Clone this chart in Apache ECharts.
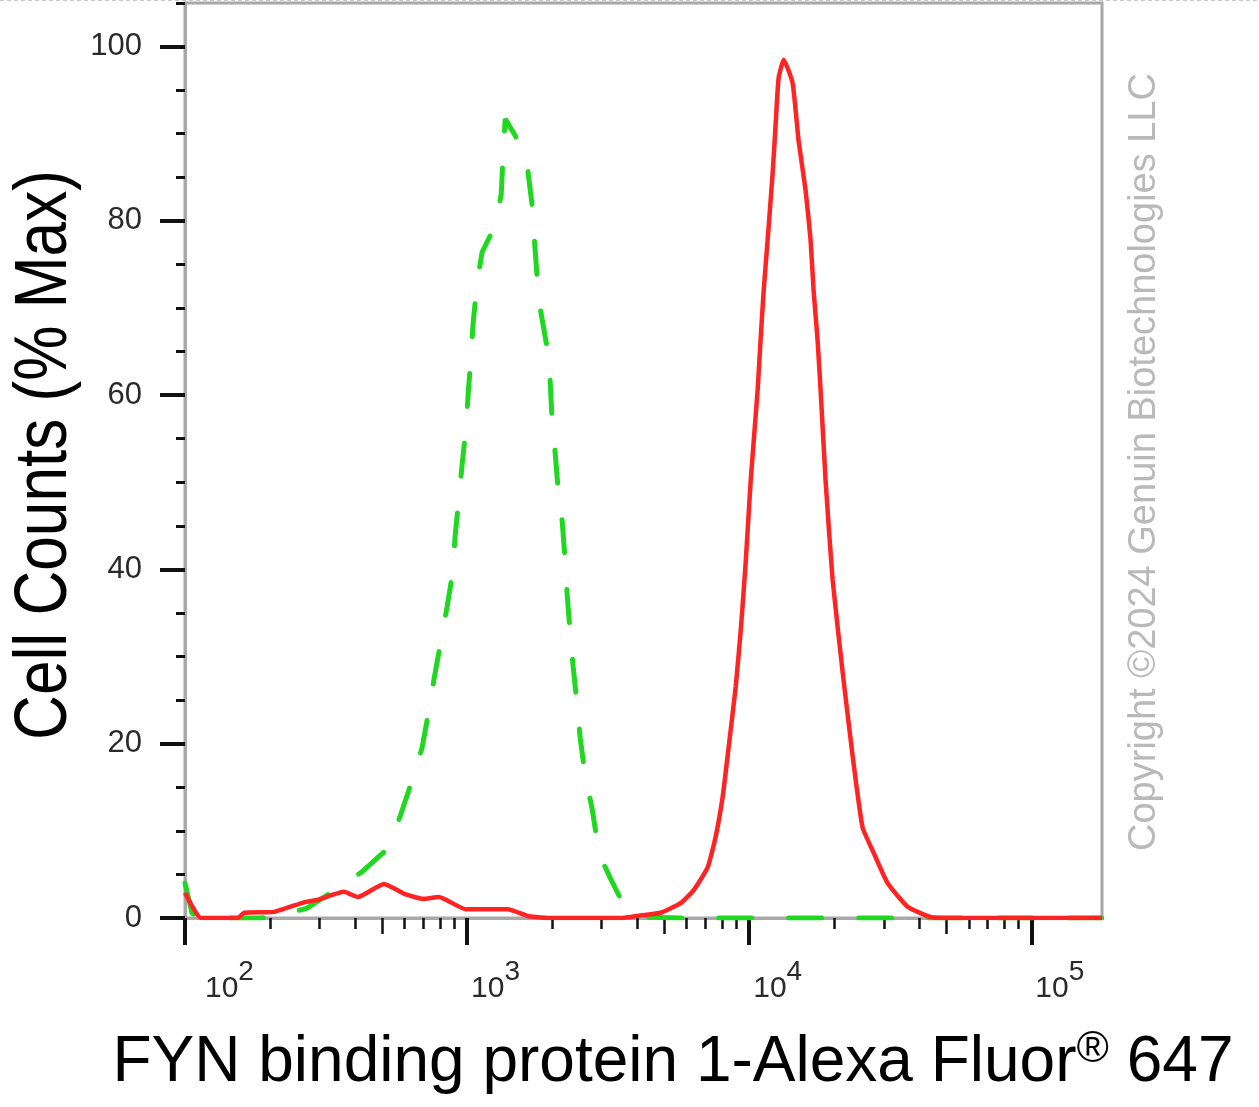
<!DOCTYPE html>
<html>
<head>
<meta charset="utf-8">
<script src="https://cdn.jsdelivr.net/npm/echarts@6/dist/echarts.min.js"></script>
<style>
html,body{margin:0;padding:0;background:#fff;}
#chart{width:1259px;height:1107px;}
</style>
</head>
<body>
<div id="chart"></div>
<script>
// ---- data ----
var isoX = [100, 106, 123, 185, 212, 240, 270, 339, 424, 525, 578, 638, 692, 733, 764, 809, 849, 892, 906, 936, 959, 991, 1009, 1033, 1050, 1085, 1130, 1267, 1321, 1342, 1365, 1480, 1633, 1700, 1729, 1771, 1815, 1922, 1969, 2001, 2051, 2103, 2172, 2228, 2264, 2319, 2377, 2455, 2518, 2619, 2772, 2914, 3060, 3215, 3488, 3848, 4348, 5690, 178000];
var isoY = [4.0, 0.5, 0, 0, 0.1, 0.7, 1.1, 3.2, 5.3, 8.0, 11.6, 15.8, 19.5, 23.9, 27.5, 31.9, 35.7, 39.9, 43.7, 48.3, 51.9, 56.3, 60.2, 64.6, 68.2, 72.9, 76.4, 79.7, 83.1, 87.7, 91.7, 89.8, 86.4, 81.8, 78.1, 73.5, 70.0, 65.4, 61.7, 57.1, 53.4, 49.1, 45.6, 40.8, 37.0, 32.7, 28.8, 24.4, 20.6, 16.4, 12.6, 8.1, 6.1, 4.6, 2.3, 1.1, 0.1, 0, 0];

var fynX = [100, 114, 154, 162, 207, 264, 296, 366, 410, 507, 607, 697, 794, 990, 1393, 1654, 2012, 3502, 4122, 4853, 5714, 6355, 7122, 7600, 8050, 8453, 8952, 9330, 9710, 10120, 10710, 10970, 11250, 11620, 12100, 12410, 12710, 13250, 14250, 14960, 15840, 16500, 16910, 17470, 17900, 18650, 19750, 21590, 23420, 25220, 27590, 30940, 36410, 43920, 50470, 178000];
var fynY = [2.9, 0, 0, 0.6, 0.7, 1.8, 2.1, 3.0, 2.4, 3.9, 2.7, 2.2, 2.4, 1.0, 1.0, 0.2, 0, 0, 0.3, 0.6, 1.7, 3.2, 5.8, 9.3, 13.9, 19.6, 26.5, 33.0, 40.7, 50.2, 60.6, 66.3, 72.0, 77.8, 85.4, 91.2, 96.4, 98.5, 95.8, 89.2, 83.5, 77.8, 72.0, 66.3, 60.6, 50.2, 38.8, 27.3, 17.8, 10.4, 7.5, 4.0, 1.3, 0.1, 0, 0];

// ---- ticks / labels ----
var xMajorTicks = [100, 1000, 10000, 100000];
var xExponents = ['2', '3', '4', '5'];
var xMinorTicks = [200, 300, 400, 600, 700, 800, 900, 2000, 3000, 4000, 6000, 7000, 8000, 9000, 20000, 30000, 40000, 60000, 70000, 80000, 90000];
var xMidTicks = [500, 5000, 50000];
var yMajorTicks = [0, 20, 40, 60, 80, 100];
var yMinorTicks = [5, 10, 15, 25, 30, 35, 45, 50, 55, 65, 70, 75, 85, 90, 95, 105];

var xTitle = 'FYN binding protein 1-Alexa Fluor';
var xTitleMark = '\u00AE';
var xTitleTail = ' 647';
var yTitle = 'Cell Counts (% Max)';
var copyright = 'Copyright \u00A92024 Genuin Biotechnologies LLC';

function pairs(xs, ys) {
  var out = [];
  for (var i = 0; i < xs.length; i++) out.push([xs[i], ys[i]]);
  return out;
}

var FONT = '"Liberation Sans", Arial, Helvetica, sans-serif';
var chart = echarts.init(document.getElementById('chart'), null, {renderer: 'canvas'});

var xBase = {type: 'log', logBase: 10, min: 100, max: 178000, position: 'bottom', splitLine: {show: false}};
var yBase = {type: 'value', min: 0, max: 105, position: 'left', splitLine: {show: false}};

var option = {
  animation: false,
  backgroundColor: '#ffffff',
  grid: {left: 185, top: 3, right: 157, bottom: 189, show: true, borderColor: '#a8a8a8', borderWidth: 3, backgroundColor: 'transparent'},
  xAxis: [
    Object.assign({}, xBase, {
      axisLine: {show: true, lineStyle: {color: '#a8a8a8', width: 3}},
      axisTick: {show: true, customValues: xMajorTicks, length: 27, lineStyle: {color: '#111', width: 4}},
      axisLabel: {
        show: true, customValues: xMajorTicks, margin: 40, align: 'left',
        formatter: function (v) {
          var idx = xMajorTicks.indexOf(Math.round(v));
          var e = idx >= 0 ? xExponents[idx] : '';
          return (idx === 0 ? '{p0|}' : '{p|}') + '{b|10}{s|' + e + '}';
        },
        rich: {
          p0: {width: 20, height: 46},
          p: {width: 4, height: 46},
          b: {fontSize: 30, fontFamily: FONT, color: '#2a2a2a', lineHeight: 46, verticalAlign: 'bottom'},
          s: {fontSize: 28, fontFamily: FONT, color: '#2a2a2a', lineHeight: 46, verticalAlign: 'top'}
        }
      }
    }),
    Object.assign({}, xBase, {
      axisLine: {show: false},
      axisTick: {show: true, customValues: xMinorTicks, length: 11, lineStyle: {color: '#111', width: 2.5}},
      axisLabel: {show: false}
    }),
    Object.assign({}, xBase, {
      axisLine: {show: false},
      axisTick: {show: true, customValues: xMidTicks, length: 16, lineStyle: {color: '#111', width: 2.5}},
      axisLabel: {show: false}
    })
  ],
  yAxis: [
    Object.assign({}, yBase, {
      axisLine: {show: true, lineStyle: {color: '#a8a8a8', width: 3}},
      axisTick: {show: true, customValues: yMajorTicks, length: 25, lineStyle: {color: '#111', width: 4}},
      axisLabel: {show: true, customValues: yMajorTicks, margin: 43, fontSize: 31, fontFamily: FONT, color: '#2a2a2a'}
    }),
    Object.assign({}, yBase, {
      axisLine: {show: false},
      axisTick: {show: true, customValues: yMinorTicks, length: 9, lineStyle: {color: '#111', width: 3}},
      axisLabel: {show: false}
    })
  ],
  series: [
    {
      name: 'Isotype', type: 'line', xAxisIndex: 0, yAxisIndex: 0,
      data: pairs(isoX, isoY), showSymbol: false, symbol: 'none', z: 2,
      lineStyle: {color: '#1fd81f', width: 5, type: [33, 37], cap: 'round'}
    },
    {
      name: 'FYN binding protein 1', type: 'line', xAxisIndex: 0, yAxisIndex: 0,
      data: pairs(fynX, fynY), showSymbol: false, symbol: 'none', z: 3,
      smooth: 0.15,
      lineStyle: {color: '#ff2424', width: 4.5, join: 'round'}
    }
  ],
  graphic: [
    {type: 'line', silent: true, shape: {x1: 0, y1: 0.5, x2: 1259, y2: 0.5}, style: {stroke: '#c8c8c8', lineWidth: 1, lineDash: [4, 3]}},
    {
      type: 'text', x: 46, y: 455, rotation: Math.PI / 2, scaleX: 0.84, silent: true,
      style: {text: yTitle, fontSize: 74, fontFamily: FONT, fill: '#000', align: 'center', verticalAlign: 'middle'}
    },
    {
      type: 'text', x: 673, y: 1063, silent: true,
      style: {
        text: '{t|' + xTitle + '}{r|' + xTitleMark + '}{t|' + xTitleTail + '}',
        align: 'center', verticalAlign: 'middle',
        rich: {
          t: {fontSize: 64, fontFamily: FONT, fill: '#000', lineHeight: 70},
          r: {fontSize: 44, fontFamily: FONT, fill: '#000', lineHeight: 70, verticalAlign: 'top'}
        }
      }
    },
    {
      type: 'text', x: 1145, y: 462, rotation: Math.PI / 2, silent: true,
      style: {text: copyright, fontSize: 38, fontFamily: FONT, fill: '#b9b9b9', align: 'center', verticalAlign: 'middle'}
    }
  ]
};
chart.setOption(option);
</script>
</body>
</html>
